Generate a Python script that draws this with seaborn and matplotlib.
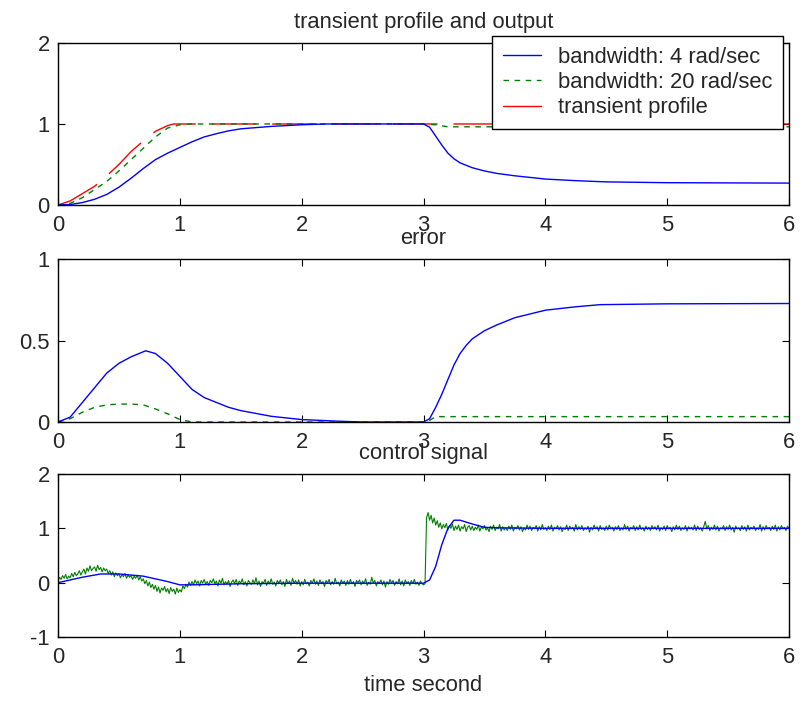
import numpy as np
import matplotlib
matplotlib.use("Agg")
import matplotlib.pyplot as plt
import seaborn as sns
from matplotlib.lines import Line2D

# ---------------- data ----------------
# top panel: transient profile and outputs
t_prof = [0, 0.1, 0.2, 0.3, 0.4, 0.5, 0.6, 0.7, 0.8, 0.9, 0.95, 1.0, 6.0]
prof = [0, 0.05, 0.14, 0.23, 0.36, 0.50, 0.66, 0.79, 0.91, 0.98, 1.0, 1.0, 1.0]

t_out4 = [0, 0.1, 0.2, 0.3, 0.4, 0.5, 0.6, 0.7, 0.8, 0.9, 1.0, 1.1, 1.2, 1.3, 1.4,
          1.5, 1.75, 2.0, 2.2, 3.0, 3.05, 3.1, 3.15, 3.2, 3.25, 3.3, 3.4, 3.5,
          3.6, 3.75, 4.0, 4.25, 4.5, 5.0, 6.0]
out4 = [0, 0.005, 0.03, 0.07, 0.13, 0.22, 0.33, 0.45, 0.56, 0.64, 0.71, 0.78,
        0.84, 0.88, 0.915, 0.94, 0.97, 0.99, 1.0, 1.0, 0.96, 0.85, 0.74, 0.64,
        0.57, 0.52, 0.46, 0.42, 0.39, 0.36, 0.32, 0.30, 0.285, 0.275, 0.27]

t_out20 = [0, 0.1, 0.2, 0.3, 0.4, 0.5, 0.6, 0.7, 0.8, 0.9, 1.0, 1.1, 3.0, 3.1,
           3.2, 6.0]
out20 = [0, 0.02, 0.09, 0.19, 0.29, 0.42, 0.56, 0.70, 0.84, 0.95, 0.99, 1.0,
         1.0, 0.99, 0.965, 0.965]

# middle panel: error
t_err4 = [0, 0.1, 0.2, 0.3, 0.4, 0.5, 0.6, 0.72, 0.8, 0.9, 1.0, 1.1, 1.2, 1.3,
          1.4, 1.5, 1.75, 2.0, 2.3, 2.5, 3.0, 3.05, 3.1, 3.15, 3.2, 3.25, 3.3,
          3.35, 3.4, 3.5, 3.6, 3.75, 4.0, 4.25, 4.45, 5.0, 6.0]
err4 = [0, 0.03, 0.12, 0.21, 0.30, 0.36, 0.40, 0.437, 0.42, 0.36, 0.28, 0.20,
        0.15, 0.12, 0.09, 0.07, 0.035, 0.015, 0.005, 0.0, 0.0, 0.02, 0.09,
        0.17, 0.26, 0.35, 0.42, 0.47, 0.51, 0.56, 0.595, 0.64, 0.686, 0.707,
        0.72, 0.725, 0.727]

t_err20 = [0, 0.1, 0.2, 0.3, 0.4, 0.5, 0.6, 0.7, 0.8, 0.9, 1.0, 1.1, 3.0, 3.05,
           3.1, 6.0]
err20 = [0, 0.02, 0.06, 0.09, 0.105, 0.11, 0.11, 0.105, 0.08, 0.05, 0.015, 0.0,
         0.0, 0.01, 0.033, 0.033]

# bottom panel: control signal
t_u4 = [0, 0.2, 0.35, 0.5, 0.7, 0.8, 0.9, 1.0, 1.1, 1.5, 2.0, 3.0, 3.05, 3.1,
        3.15, 3.2, 3.25, 3.3, 3.4, 3.5, 3.6, 4.0, 6.0]
u4 = [0, 0.10, 0.16, 0.16, 0.12, 0.07, 0.02, -0.04, -0.04, -0.02, -0.01, -0.01,
      0.05, 0.30, 0.70, 1.00, 1.15, 1.15, 1.08, 1.02, 1.01, 1.0, 1.0]

# 20 rad/sec control signal, one row per 0.1 s
u20 = [
    0.03, 0.10, 0.06, 0.13, 0.08, 0.15, 0.07, 0.12,
    0.09, 0.17, 0.11, 0.19, 0.13, 0.16, 0.22, 0.14,
    0.20, 0.25, 0.16, 0.27, 0.21, 0.31, 0.22, 0.26,
    0.29, 0.21, 0.32, 0.24, 0.28, 0.20, 0.27, 0.22,
    0.25, 0.17, 0.22, 0.14, 0.20, 0.11, 0.18, 0.13,
    0.16, 0.09, 0.15, 0.11, 0.17, 0.08, 0.14, 0.10,
    0.13, 0.06, 0.12, 0.08, 0.14, 0.05, 0.11, 0.03,
    0.07, -0.02, 0.04, -0.06, 0.01, -0.09, -0.03, -0.12,
    -0.05, -0.16, -0.08, -0.19, -0.10, -0.14, -0.07, -0.17,
    -0.11, -0.20, -0.09, -0.16, -0.12, -0.21, -0.10, -0.18,
    -0.13, -0.17, -0.06, -0.11, -0.03, -0.08, 0.01, -0.05,
    0.02, -0.04, 0.05, -0.02, 0.03, -0.06, 0.04, -0.01,
    0.06, -0.03, 0.02, -0.05, 0.04, 0.00, 0.07, -0.02,
    0.03, -0.06, 0.05, -0.01, 0.08, -0.04, 0.02, -0.03,
    0.04, -0.07, 0.01, 0.05, -0.02, 0.06, -0.05, 0.03,
    -0.01, 0.07, -0.04, 0.02, -0.06, 0.04, 0.00, -0.03,
    0.05, -0.02, 0.09, -0.04, 0.03, -0.07, 0.02, -0.01,
    0.06, -0.05, 0.03, -0.02, 0.07, -0.03, 0.01, -0.06,
    0.04, -0.01, 0.05, -0.04, 0.02, -0.07, 0.06, -0.02,
    0.03, -0.05, 0.08, -0.01, 0.04, -0.03, 0.05, -0.06,
    0.02, -0.04, 0.06, -0.02, 0.01, -0.06, 0.04, -0.01,
    0.07, -0.03, 0.03, -0.05, 0.05, -0.02, 0.02, -0.07,
    0.04, -0.01, 0.06, -0.04, 0.02, -0.03, 0.08, -0.02,
    0.01, -0.06, 0.05, -0.01, 0.03, -0.05, 0.04, -0.03,
    0.06, -0.02, 0.02, -0.07, 0.04, 0.00, 0.05, -0.04,
    0.03, -0.02, 0.07, -0.05, 0.01, -0.03, 0.10, -0.01,
    0.04, -0.06, 0.02, -0.02, 0.05, -0.04, 0.03, -0.08,
    0.02, -0.03, 0.06, -0.01, 0.04, -0.05, 0.02, -0.02,
    0.07, -0.04, 0.03, -0.06, 0.05, -0.01, 0.02, -0.05,
    0.04, -0.02, 0.06, -0.03, 0.01, -0.05, 0.03, -0.02,
    -0.04, -0.02, 1.20, 1.29, 1.15, 1.24, 1.10, 1.19,
    1.06, 1.14, 1.02, 1.10, 0.99, 1.07, 1.01, 1.09,
    0.97, 1.05, 1.00, 1.08, 0.96, 1.04, 0.98, 1.06,
    0.95, 1.03, 0.99, 1.07, 0.94, 1.02, 1.05, 0.97,
    1.04, 0.96, 1.02, 0.98, 1.06, 0.95, 1.03, 0.99,
    1.05, 0.97, 1.01, 0.94, 1.04, 0.98, 1.06, 0.96,
    1.02, 0.99, 1.07, 0.95, 1.03, 0.97, 1.01, 0.96,
    1.04, 0.98, 1.06, 0.95, 1.02, 0.99, 1.05, 0.97,
    1.03, 0.94, 1.01, 0.97, 1.06, 0.98, 1.04, 0.96,
    1.02, 0.99, 1.05, 0.95, 1.03, 0.97, 1.07, 0.98,
    1.01, 0.96, 1.04, 0.98, 1.06, 0.95, 1.02, 0.99,
    1.05, 0.97, 1.03, 0.94, 1.01, 0.98, 1.06, 0.96,
    1.04, 0.99, 1.02, 0.95, 1.07, 0.97, 1.03, 0.98,
    1.05, 0.96, 1.01, 0.98, 1.04, 0.93, 1.02, 0.97,
    1.06, 0.99, 1.03, 0.95, 1.05, 0.98, 1.01, 0.96,
    1.04, 0.97, 1.06, 0.99, 1.02, 0.95, 1.03, 0.98,
    1.05, 0.96, 1.01, 0.97, 1.07, 0.98, 1.04, 0.95,
    1.02, 0.99, 1.05, 0.96, 1.03, 0.97, 1.06, 0.98,
    1.01, 0.95, 1.04, 0.98, 1.02, 0.96, 1.05, 0.99,
    1.03, 0.97, 1.06, 0.95, 1.01, 0.98, 1.04, 0.96,
    1.05, 0.99, 1.02, 0.94, 1.03, 0.97, 1.06, 0.98,
    1.04, 0.96, 1.01, 0.98, 1.05, 0.95, 1.03, 0.99,
    1.02, 0.97, 1.06, 0.96, 1.04, 0.98, 1.01, 0.95,
    1.03, 1.13, 0.99, 1.05, 0.96, 1.02, 0.98, 1.06,
    0.97, 1.04, 0.95, 1.01, 0.99, 1.05, 0.96, 1.03,
    0.98, 1.06, 0.97, 1.02, 0.93, 1.04, 0.99, 1.01,
    0.96, 1.05, 0.98, 1.03, 0.95, 1.06, 0.97, 1.02,
    0.99, 1.04, 0.96, 1.01, 0.98, 1.07, 0.95, 1.03,
    0.97, 1.05, 0.99, 1.02, 0.96, 1.04, 0.98, 1.06,
    0.95, 1.03, 0.97, 1.05, 0.99, 1.02, 0.96, 1.04,
    1.00,
]
t_u20 = np.linspace(0, 6, len(u20))

x_ticks = [0, 1, 2, 3, 4, 5, 6]
titles = ["transient profile and output", "error", "control signal"]
legend_labels = ["bandwidth: 4 rad/sec", "bandwidth: 20 rad/sec", "transient profile"]
x_label = "time second"

# ---------------- style ----------------
FS = 15.8
sns.set_style("ticks")
plt.rcParams["font.family"] = ["Liberation Sans", "DejaVu Sans"]
plt.rcParams["font.size"] = FS
plt.rcParams["axes.unicode_minus"] = False

BLUE = "#0000ff"
GREEN = "#008000"
RED = "#ff0000"
DASH = (0, (4, 4))
LONG_DASH = (0, (32, 11.5))

fig = plt.figure(figsize=(8.10, 7.01), dpi=100)
left, width = 0.0716, 0.9025
ax1 = fig.add_axes([left, 0.7076, width, 0.2311])
ax2 = fig.add_axes([left, 0.3980, width, 0.2325])
ax3 = fig.add_axes([left, 0.0913, width, 0.2325])


def draw(ax, x, y, color, ls="-", lw=1.0):
    sns.lineplot(x=x, y=y, ax=ax, color=color, linestyle=ls, linewidth=lw,
                 estimator=None, sort=False, legend=False)


# top
draw(ax1, t_prof, prof, RED, LONG_DASH, 1.0)
draw(ax1, t_out20, out20, GREEN, DASH, 1.0)
draw(ax1, t_out4, out4, BLUE, "-", 1.0)
ax1.set_ylim(0, 2)
ax1.set_yticks([0, 1, 2])

handles = [Line2D([], [], color=BLUE, lw=1.0),
           Line2D([], [], color=GREEN, lw=1.0, linestyle=DASH),
           Line2D([], [], color=RED, lw=1.0)]
leg = ax1.legend(handles, legend_labels, loc="upper right",
                 bbox_to_anchor=(0.992, 1.045), frameon=True, fancybox=False,
                 edgecolor="black", framealpha=1, fontsize=FS,
                 handlelength=1.75, handletextpad=0.75, labelspacing=0.2,
                 borderpad=0.5, borderaxespad=0.0)
leg.get_frame().set_linewidth(1.0)

# middle
draw(ax2, t_err20, err20, GREEN, DASH, 1.0)
draw(ax2, t_err4, err4, BLUE, "-", 1.0)
ax2.set_ylim(0, 1)
ax2.set_yticks([0, 0.5, 1])
ax2.set_yticklabels(["0", "0.5", "1"])

# bottom
draw(ax3, t_u20, u20, GREEN, "-", 0.8)
draw(ax3, t_u4, u4, BLUE, "-", 1.0)
ax3.set_ylim(-1, 2)
ax3.set_yticks([-1, 0, 1, 2])
ax3.set_xlabel(x_label, fontsize=FS, labelpad=5)

for ax, title in zip([ax1, ax2, ax3], titles):
    ax.set_xlim(0, 6)
    ax.set_xticks(x_ticks)
    ax.set_xticklabels([str(v) for v in x_ticks])
    ax.set_title(title, fontsize=FS, pad=11)
    if ax is not ax3:
        ax.set_xlabel("")
    ax.set_ylabel("")
    ax.tick_params(direction="in", top=True, right=True, length=5, width=0.8,
                   labelsize=FS, color="black")
    ax.tick_params(axis="x", pad=7)
    ax.tick_params(axis="y", pad=6)
    for s in ax.spines.values():
        s.set_visible(True)
        s.set_color("black")
        s.set_linewidth(1.0)
    ax.set_facecolor("white")

fig.savefig("out.png", dpi=100, facecolor="white")
